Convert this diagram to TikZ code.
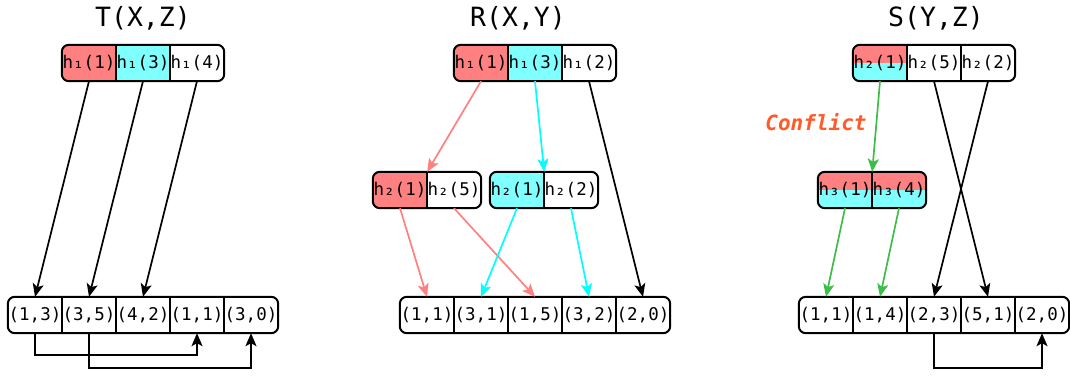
\documentclass[tikz,border=0pt]{standalone}
\usepackage{fontspec}
\usetikzlibrary{arrows.meta,backgrounds}
\newfontfamily\monof{DejaVu Sans Mono}
\definecolor{redc}{HTML}{FF8080}
\definecolor{cyanc}{HTML}{80FFFF}
\definecolor{cyanl}{HTML}{00FFFF}
\definecolor{greenl}{HTML}{3DBE4B}
\definecolor{conf}{HTML}{FF5A28}
\tikzset{
 cell/.style={rectangle, minimum width=54pt, minimum height=36pt, inner sep=0pt, font=\monof\fontsize{17.5}{17.5}\selectfont},
 ttl/.style={font=\monof\fontsize{26.5}{26.5}\selectfont},
 outline/.style={draw=black, line width=2pt, rounded corners=7pt},
 div/.style={draw=black, line width=1.5pt},
 arr/.style={line width=1.7pt, -{Stealth[length=13pt,width=11pt,inset=3pt]}},
}
\begin{document}
\begin{tikzpicture}[x=1pt,y=-1pt]
\useasboundingbox (0,0) rectangle (1070,375);

% titles
\node[ttl] (tT) at (143,18) {T(X,Z)};
\node[ttl] (tR) at (518,18) {R(X,Y)};
\node[ttl] (tS) at (936,18) {S(Y,Z)};

% T panel
\node[cell] (ta) at (89,63) {h₁(1)};
\node[cell] (tb) at (143,63) {h₁(3)};
\node[cell] (tc) at (197,63) {h₁(4)};
\node[cell] (b1) at (35,315) {(1,3)};
\node[cell] (b2) at (89,315) {(3,5)};
\node[cell] (b3) at (143,315) {(4,2)};
\node[cell] (b4) at (197,315) {(1,1)};
\node[cell] (b5) at (251,315) {(3,0)};

% R panel
\node[cell] (ra) at (481,63) {h₁(1)};
\node[cell] (rb) at (535,63) {h₁(3)};
\node[cell] (rc) at (589,63) {h₁(2)};
\node[cell] (rla) at (400,190) {h₂(1)};
\node[cell] (rlb) at (454,190) {h₂(5)};
\node[cell] (rra) at (517,190) {h₂(1)};
\node[cell] (rrb) at (571,190) {h₂(2)};
\node[cell] (r1) at (427,315) {(1,1)};
\node[cell] (r2) at (481,315) {(3,1)};
\node[cell] (r3) at (535,315) {(1,5)};
\node[cell] (r4) at (589,315) {(3,2)};
\node[cell] (r5) at (643,315) {(2,0)};

% S panel
\node[cell] (sa) at (880,63) {h₂(1)};
\node[cell] (sb) at (934,63) {h₂(5)};
\node[cell] (sc) at (988,63) {h₂(2)};
\node[cell] (sma) at (845,190) {h₃(1)};
\node[cell] (smb) at (899,190) {h₃(4)};
\node[cell] (s1) at (826,315) {(1,1)};
\node[cell] (s2) at (880,315) {(1,4)};
\node[cell] (s3) at (934,315) {(2,3)};
\node[cell] (s4) at (988,315) {(5,1)};
\node[cell] (s5) at (1042,315) {(2,0)};

\node[font=\monof\bfseries\itshape\fontsize{21}{21}\selectfont, text=conf] (conf) at (816,122) {Conflict};

% backgrounds and dividers
\begin{pgfonlayer}{background}
\foreach \first/\last/\cells in {ta/tc/{ta,tb,tc}, b1/b5/{b1,b2,b3,b4,b5}, ra/rc/{ra,rb,rc}, rla/rlb/{rla,rlb}, rra/rrb/{rra,rrb}, r1/r5/{r1,r2,r3,r4,r5}, sa/sc/{sa,sb,sc}, sma/smb/{sma,smb}, s1/s5/{s1,s2,s3,s4,s5}}{
 \begin{scope}
 \clip[rounded corners=7pt] (\first.north west) rectangle (\last.south east);
 \fill[white] (\first.north west) rectangle (\last.south east);
 \foreach \c in {ta,ra,rla}{\fill[redc] (\c.north west) rectangle (\c.south east);}
 \foreach \c in {tb,rb,rra}{\fill[cyanc] (\c.north west) rectangle (\c.south east);}
 \foreach \c in {sa,sma,smb}{\fill[redc] (\c.north west) rectangle (\c.east); \fill[cyanc] (\c.west) rectangle (\c.south east);}
 \foreach \c in \cells {\draw[div] (\c.north west) rectangle (\c.south east);}
 \end{scope}
}
\end{pgfonlayer}

% outlines
\draw[outline] (ta.north west) rectangle (tc.south east);
\draw[outline] (b1.north west) rectangle (b5.south east);
\draw[outline] (ra.north west) rectangle (rc.south east);
\draw[outline] (rla.north west) rectangle (rlb.south east);
\draw[outline] (rra.north west) rectangle (rrb.south east);
\draw[outline] (r1.north west) rectangle (r5.south east);
\draw[outline] (sa.north west) rectangle (sc.south east);
\draw[outline] (sma.north west) rectangle (smb.south east);
\draw[outline] (s1.north west) rectangle (s5.south east);

% T arrows
\draw[arr] (ta.south) -- (b1.north);
\draw[arr] (tb.south) -- (b2.north);
\draw[arr] (tc.south) -- (b3.north);
\draw[arr] (b1.south) -- ++(0,22) -| (b4.south);
\draw[arr] (b2.south) -- ++(0,35) -| (b5.south);

% R arrows
\draw[arr, redc] (ra.south) -- (rla.north east);
\draw[arr, cyanl] (rb.south) -- (rra.north east);
\draw[arr] (rc.south) -- (r5.north);
\draw[arr, redc] (rla.south) -- (r1.north);
\draw[arr, redc] (rlb.south) -- (r3.north);
\draw[arr, cyanl] (rra.south) -- (r2.north);
\draw[arr, cyanl] (rrb.south) -- (r4.north);

% S arrows
\draw[arr, greenl] (sa.south) -- (sma.north east);
\draw[arr, greenl] (sma.south) -- (s1.north);
\draw[arr, greenl] (smb.south) -- (s2.north);
\draw[arr] (sb.south) -- (s4.north);
\draw[arr] (sc.south) -- (s3.north);
\draw[arr] (s3.south) -- ++(0,35) -| (s5.south);
\end{tikzpicture}
\end{document}
